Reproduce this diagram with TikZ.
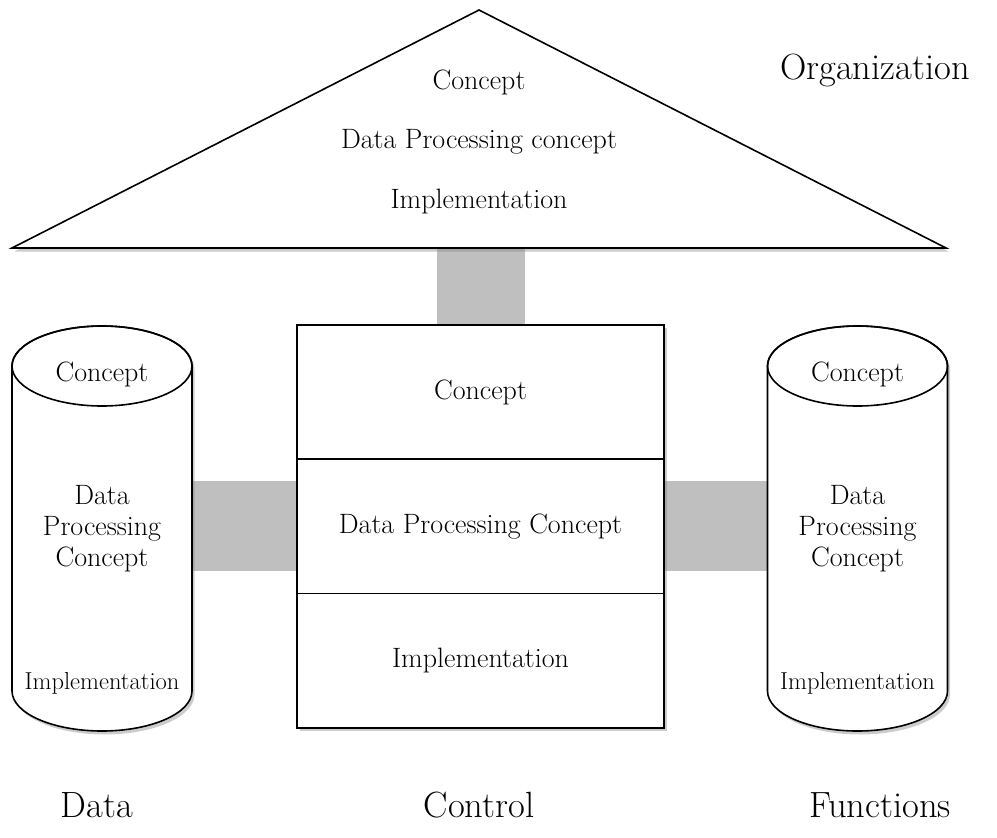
\documentclass[tikz,border=0pt]{standalone}
\usetikzlibrary{positioning,shadows,backgrounds}
\begin{document}
\begin{tikzpicture}[x=1pt,y=-1pt,
    outline/.style={draw=black, line width=1.6pt, fill=white, drop shadow={opacity=0.4, shadow xshift=2.5pt, shadow yshift=-3.5pt}},
    layer/.style={outline, rectangle, minimum width=367pt, minimum height=134.3pt, inner sep=0pt, outer sep=0pt, font=\fontsize{28}{31}\selectfont},
    txt/.style={font=\fontsize{28}{31}\selectfont, align=center, inner sep=0pt},
    small/.style={font=\fontsize{24.5}{28}\selectfont, inner sep=0pt},
    big/.style={font=\fontsize{36.5}{42}\selectfont, inner sep=0pt},
    bar/.style={gray!50, line width=#1}]
    % FRAME
    \useasboundingbox (0,0) rectangle (997,838);

    % ROOF (ORGANIZATION)
    \draw[outline] (12,248) -- (479,10) -- (946,248) -- cycle;
    \node[txt] (orgA) at (479,82) {Concept};
    \node[txt] (orgB) at (479,142) {Data Processing concept};
    \node[txt] (orgC) at (479,202) {Implementation};

    % CONTROL BLOCK
    \node[layer] (ctlA) at (480.5,392) {Concept};
    \node[layer, below=0pt of ctlA] (ctlB) {Data Processing Concept};
    \node[layer, below=0pt of ctlB] (ctlC) {Implementation};

    % CYLINDERS (DATA, FUNCTIONS)
    \foreach \cx/\nm in {102/dat, 857.5/fun} {
    \draw[outline] (\cx-90,366) -- (\cx-90,691)
        arc[start angle=180, end angle=360, x radius=90pt, y radius=40pt]
        -- (\cx+90,366)
        arc[start angle=0, end angle=180, x radius=90pt, y radius=40pt] -- cycle;
    \draw[line width=1.6pt] (\cx,366) ellipse[x radius=90pt, y radius=40pt];
    \node[txt] (\nm A) at (\cx,374) {Concept};
    \node[txt] (\nm B) at (\cx,529) {Data\\Processing\\Concept};
    \node[small] (\nm C) at (\cx,683) {Implementation};
    }
    \coordinate (roof) at (ctlA.north |- 0,248);
    \coordinate (datE) at (ctlB.west -| 192,0);
    \coordinate (funW) at (ctlB.east -| 767.5,0);

    % GRAY LINKS
    \begin{scope}[on background layer]
    \draw[bar=88pt] (roof) -- (ctlA.north);
    \draw[bar=90pt] (datE) -- (ctlB.west);
    \draw[bar=90pt] (ctlB.east) -- (funW);
    \end{scope}

    % LABELS
    \node[big] (labOrg) at (875,70) {Organization};
    \node[big] (labDat) at (97,805) {Data};
    \node[big] (labCtl) at (479,805) {Control};
    \node[big] (labFun) at (880,805) {Functions};

\end{tikzpicture}
\end{document}
